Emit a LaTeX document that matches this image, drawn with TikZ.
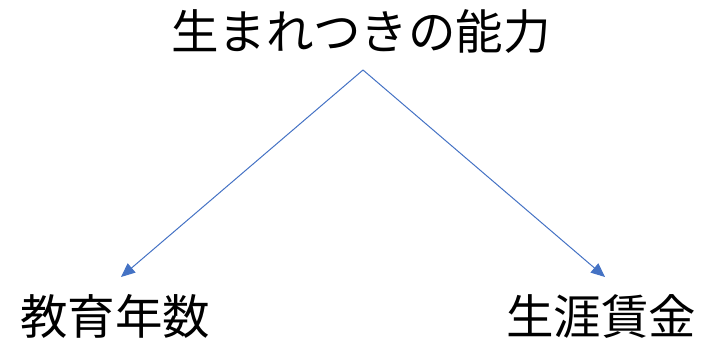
\documentclass[tikz,border=0pt]{standalone}
\usepackage{fontspec}
\setmainfont{Noto Sans CJK JP}
\usetikzlibrary{arrows.meta}
\definecolor{arrblue}{HTML}{4472C4}
\begin{document}
\begin{tikzpicture}[x=1pt,y=-1pt,
  lbl/.style={font=\fontsize{47.5}{52}\selectfont, inner sep=0pt, anchor=center},
  arr/.style={draw=arrblue, line width=1pt, -{Triangle[length=14pt,width=12pt]}}]
\useasboundingbox (0,0) rectangle (711,339);
\node[lbl] (top) at (361,32) {生まれつきの能力};
\node[lbl] (edu) at (115,316) {教育年数};
\node[lbl] (wage) at (601,316) {生涯賃金};
\coordinate (apex) at (363,70);
\coordinate (lt) at (121,277);
\coordinate (rt) at (605,277);
\draw[arr] (apex) -- (lt);
\draw[arr] (apex) -- (rt);
\end{tikzpicture}
\end{document}
